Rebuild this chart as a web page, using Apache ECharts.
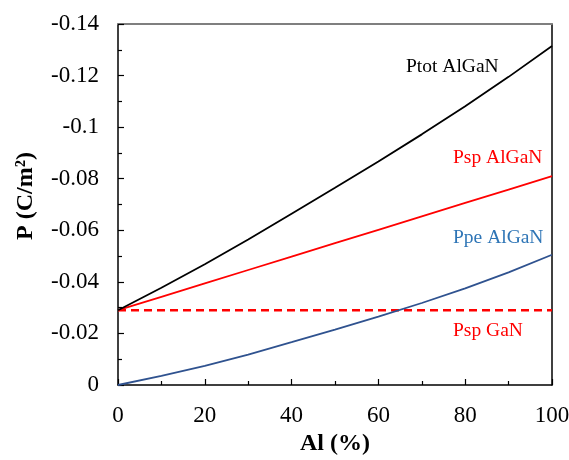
<!DOCTYPE html>
<html><head><meta charset="utf-8">
<script src="https://cdn.jsdelivr.net/npm/echarts@6/dist/echarts.min.js"></script>
<style>html,body{margin:0;padding:0;background:#fff}#c{width:569px;height:460px}</style>
</head><body><div id="c"></div>
<script>
var alPercent = [0, 10, 20, 30, 40, 50, 60, 70, 80, 90, 100];
var ptotAlGaN = [-0.029, -0.0377, -0.0468, -0.0564, -0.0664, -0.0765, -0.0867, -0.0972, -0.1081, -0.1195, -0.1315];
var pspAlGaN = [-0.029, -0.0342, -0.0394, -0.0446, -0.0498, -0.055, -0.0602, -0.0654, -0.0706, -0.0758, -0.081];
var ppeAlGaN = [0, -0.0035, -0.0074, -0.0118, -0.0166, -0.0215, -0.0265, -0.0318, -0.0375, -0.0437, -0.0505];
var pspGaN = [-0.029, -0.029, -0.029, -0.029, -0.029, -0.029, -0.029, -0.029, -0.029, -0.029, -0.029];
var yTickLabels = {'-0.14':'-0.14','-0.12':'-0.12','-0.1':'-0.1','-0.08':'-0.08','-0.06':'-0.06','-0.04':'-0.04','-0.02':'-0.02','0':'0'};
var seriesLabels = ['Ptot AlGaN', 'Psp AlGaN', 'Ppe AlGaN', 'Psp GaN'];
var xAxisTitle = 'Al (%)';
var yAxisTitle = 'P (C/m²)';

function pairs(v){ return alPercent.map(function(x,i){return [x, v[i]];}); }
var font = '"Liberation Serif","Times New Roman",serif';
var chart = echarts.init(document.getElementById('c'));
chart.setOption({
  animation:false,
  backgroundColor:'#fff',
  grid:{left:118, right:17, top:24, bottom:75, containLabel:false, outerBoundsMode:'none'},
  xAxis:[{
    type:'value', min:0, max:100, interval:20,
    name:xAxisTitle, nameLocation:'middle', nameGap:45,
    nameTextStyle:{fontFamily:font, fontWeight:'bold', fontSize:24, color:'#000'},
    axisLine:{show:true, onZero:false, lineStyle:{color:'#000', width:1.5}},
    axisTick:{inside:true, length:6, lineStyle:{color:'#000', width:1.2}},
    minorTick:{show:true, splitNumber:2, length:4, lineStyle:{color:'#000', width:1.2}},
    axisLabel:{fontFamily:font, fontSize:23, color:'#000', margin:19},
    splitLine:{show:false}
  },{
    type:'value', position:'top', min:0, max:100,
    axisLine:{show:true, onZero:false, lineStyle:{color:'#7f7f7f', width:1.8}},
    axisTick:{show:false}, axisLabel:{show:false}, splitLine:{show:false}
  }],
  yAxis:[{
    type:'value', min:-0.14, max:0, interval:0.02, inverse:true,
    axisLine:{show:true, onZero:false, lineStyle:{color:'#000', width:1.5}},
    axisTick:{inside:true, length:6, lineStyle:{color:'#000', width:1.2}},
    minorTick:{show:true, splitNumber:2, length:4, lineStyle:{color:'#000', width:1.2}},
    axisLabel:{fontFamily:font, fontSize:23, color:'#000', margin:19,
      formatter:function(v){var k=String(Math.round(v*100)/100); return yTickLabels[k]!==undefined?yTickLabels[k]:k;}},
    splitLine:{show:false}
  },{
    type:'value', position:'right', min:-0.14, max:0, inverse:true,
    axisLine:{show:true, onZero:false, lineStyle:{color:'#000', width:1.5}},
    axisTick:{show:false}, axisLabel:{show:false}, splitLine:{show:false}
  }],
  series:[
    {type:'line', name:seriesLabels[0], data:pairs(ptotAlGaN), showSymbol:false, lineStyle:{color:'#000', width:1.8}, z:4},
    {type:'line', name:seriesLabels[1], data:pairs(pspAlGaN), showSymbol:false, lineStyle:{color:'#ff0000', width:1.8}, z:3},
    {type:'line', name:seriesLabels[2], data:pairs(ppeAlGaN), showSymbol:false, lineStyle:{color:'#2f528f', width:1.8}, z:3},
    {type:'line', name:seriesLabels[3], data:pairs(pspGaN), showSymbol:false, lineStyle:{color:'#ff0000', width:2.5, type:[8,5]}, z:2}
  ],
  graphic:[
    {type:'text', x:26, y:196, rotation:Math.PI/2, style:{text:yAxisTitle, fontFamily:font, fontWeight:'bold', fontSize:24, fill:'#000', textAlign:'center', textVerticalAlign:'middle'}},
    {type:'text', x:406, y:67, style:{text:seriesLabels[0], fontFamily:font, fontSize:19.5, fill:'#000', textVerticalAlign:'middle'}},
    {type:'text', x:453, y:158, style:{text:seriesLabels[1], fontFamily:font, fontSize:19.5, fill:'#ff0000', textVerticalAlign:'middle'}},
    {type:'text', x:453, y:238, style:{text:seriesLabels[2], fontFamily:font, fontSize:19.5, fill:'#2e75b6', textVerticalAlign:'middle'}},
    {type:'text', x:453, y:331, style:{text:seriesLabels[3], fontFamily:font, fontSize:19.5, fill:'#ff0000', textVerticalAlign:'middle'}}
  ]
});
</script></body></html>
